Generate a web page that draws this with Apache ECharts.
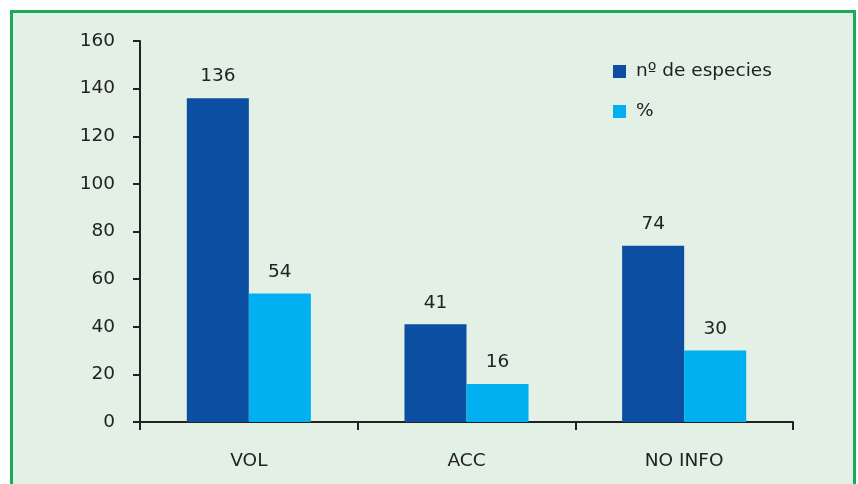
<!DOCTYPE html>
<html>
<head>
<meta charset="utf-8">
<script src="https://cdn.jsdelivr.net/npm/echarts@6/dist/echarts.min.js"></script>
<style>
  html, body { margin: 0; padding: 0; background: #ffffff; overflow: hidden; }
  #frame {
    position: absolute; left: 10px; top: 10px; width: 846px; height: 520px;
    border: 3px solid #1aaa5a; background: #e2f0e5; box-sizing: border-box;
  }
  #chart { position: absolute; left: 0; top: 0; width: 858px; height: 484px; }
</style>
</head>
<body>
<div id="frame"></div>
<div id="chart"></div>
<script>
// categorías y valores
var categories = ['VOL', 'ACC', 'NO INFO'];
var nEspecies = [136, 41, 74];
var porcentaje = [54, 16, 30];
var yTicks = [0, 20, 40, 60, 80, 100, 120, 140, 160];

var font = 'DejaVu Sans, Verdana, sans-serif';
var fs = 18.5;
var chart = echarts.init(document.getElementById('chart'));

chart.setOption({
  backgroundColor: 'transparent',
  animation: false,
  textStyle: { fontFamily: font },
  grid: { left: 140, right: 65, top: 41, bottom: 62 },
  legend: {
    orient: 'vertical',
    left: 608,
    top: 57,
    itemWidth: 13,
    itemHeight: 13,
    itemGap: 21,
    icon: 'rect',
    textStyle: { fontFamily: font, fontSize: fs, color: '#222', padding: [0, 0, 0, 5] },
    data: ['nº de especies', '%']
  },
  xAxis: {
    type: 'category',
    data: categories,
    axisLine: { lineStyle: { color: '#222', width: 2 } },
    axisTick: { show: true, length: 8, lineStyle: { color: '#222', width: 2 } },
    axisLabel: { fontFamily: font, fontSize: fs, color: '#222', margin: 30 }
  },
  yAxis: {
    type: 'value',
    min: yTicks[0],
    max: yTicks[yTicks.length - 1],
    interval: 20,
    splitLine: { show: false },
    axisLine: { show: true, lineStyle: { color: '#222', width: 2 } },
    axisTick: { show: true, length: 7, lineStyle: { color: '#222', width: 2 } },
    axisLabel: { fontFamily: font, fontSize: fs, color: '#222', margin: 25 }
  },
  series: [{
    name: 'nº de especies',
    type: 'bar',
    data: nEspecies,
    barWidth: '28.5%',
    barGap: '0%',
    itemStyle: { color: '#0b4ea2' },
    label: { show: true, position: 'top', distance: 12, fontFamily: font, fontSize: fs, color: '#222' }
  }, {
    name: '%',
    type: 'bar',
    data: porcentaje,
    barWidth: '28.5%',
    barGap: '0%',
    itemStyle: { color: '#00b0f0' },
    label: { show: true, position: 'top', distance: 12, fontFamily: font, fontSize: fs, color: '#222' }
  }]
});
</script>
</body>
</html>
